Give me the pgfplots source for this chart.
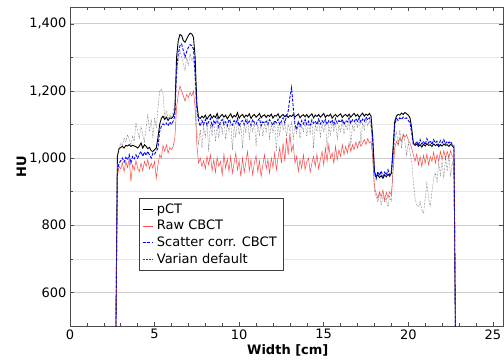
\documentclass[border=0pt]{standalone}
\usepackage{fontspec}
\setmainfont{DejaVu Sans}
\usepackage{pgfplots}
\pgfplotsset{compat=1.18}
\usepackage{pgfplotstable}
\definecolor{rawred}{RGB}{255,70,70}
\definecolor{gridmaj}{RGB}{205,205,205}
\definecolor{gridmin}{RGB}{232,232,232}
\pgfplotstableread{
x pct raw scat var
2.7 400 400 400 400
2.8 1005 945 960 1010
2.9 1028 975 985 1030
3.0 1032 968 992 1045
3.1 1035 985 1000 1038
3.2 1030 960 988 1060
3.3 1038 990 1002 1048
3.4 1036 972 995 1070
3.5 1040 998 1010 1055
3.6 1035 930 985 1040
3.7 1038 980 1005 1065
3.8 1036 965 998 1050
3.9 1034 992 1010 1105
4.0 1030 970 1000 1080
4.1 1036 960 1012 1060
4.2 1045 985 1020 1095
4.3 1030 962 1005 1070
4.4 1040 990 1018 1050
4.5 1035 975 1008 1090
4.6 1028 995 1020 1130
4.7 1032 968 1010 1080
4.8 1022 985 1000 1115
4.9 1020 970 1015 1060
5.0 1025 990 1012 1120
5.1 1030 940 1020 1090
5.2 1060 980 1030 1150
5.3 1100 1010 1080 1200
5.4 1118 1000 1095 1205
5.5 1125 1038 1102 1190
5.6 1115 1020 1098 1120
5.7 1122 1040 1104 1140
5.8 1112 1015 1096 1115
5.9 1120 1032 1108 1130
6.0 1118 1025 1100 1120
6.1 1124 1035 1110 1140
6.2 1140 1060 1125 1160
6.3 1300 1150 1260 1240
6.4 1350 1190 1310 1290
6.5 1368 1215 1335 1320
6.6 1365 1200 1340 1300
6.7 1350 1185 1320 1280
6.8 1345 1170 1300 1260
6.9 1355 1190 1318 1300
7.0 1365 1180 1330 1275
7.1 1372 1195 1338 1310
7.2 1370 1185 1335 1290
7.3 1360 1200 1325 1300
7.4 1300 1150 1250 1220
7.5 1160 1040 1150 1080
7.6 1122 985 1110 1040
7.7 1118 1000 1095 1085
7.8 1125 975 1112 1030
7.9 1120 992 1100 1095
8.0 1128 968 1115 1060
8.1 1116 1005 1098 1110
8.2 1124 980 1108 1020
8.3 1130 1010 1118 1100
8.4 1119 962 1095 1070
8.5 1126 995 1110 1115
8.6 1121 958 1102 1050
8.7 1133 1002 1120 1095
8.8 1118 975 1092 1060
8.9 1125 990 1110 1105
9.0 1130 950 1115 1075
9.1 1122 1012 1100 1120
9.2 1128 970 1108 1055
9.3 1117 998 1096 1100
9.4 1125 960 1115 1080
9.5 1132 1005 1105 1110
9.6 1120 955 1098 1025
9.7 1127 985 1112 1095
9.8 1123 1015 1104 1065
9.9 1135 965 1118 1115
10.0 1119 992 1095 1070
10.1 1126 945 1108 1100
10.2 1130 1000 1112 1030
10.3 1121 958 1100 1105
10.4 1128 988 1115 1075
10.5 1124 1020 1102 1118
10.6 1132 962 1110 1060
10.7 1118 995 1098 1098
10.8 1126 950 1115 1080
10.9 1130 985 1105 1110
11.0 1122 1008 1100 1035
11.1 1127 960 1112 1100
11.2 1133 992 1118 1070
11.3 1120 945 1096 1112
11.4 1126 980 1108 1065
11.5 1129 1010 1104 1105
11.6 1121 968 1110 1080
11.7 1128 995 1100 1115
11.8 1124 955 1114 1060
11.9 1131 1000 1106 1100
12.0 1119 972 1098 1075
12.1 1127 1015 1112 1110
12.2 1125 965 1105 1020
12.3 1132 1002 1116 1095
12.4 1120 1030 1100 1070
12.5 1126 985 1110 1112
12.6 1130 1045 1120 1085
12.7 1123 990 1105 1105
12.8 1128 1060 1125 1065
12.9 1121 1010 1140 1100
13.0 1127 1075 1180 1080
13.1 1124 1020 1210 1110
13.2 1130 1040 1150 1060
13.3 1122 985 1100 1095
13.4 1127 1005 1085 1075
13.5 1131 960 1110 1112
13.6 1120 995 1095 1058
13.7 1126 970 1112 1100
13.8 1129 1010 1102 1080
13.9 1123 965 1115 1110
14.0 1130 990 1100 1065
14.1 1121 1000 1110 1105
14.2 1127 958 1098 1075
14.3 1132 985 1114 1115
14.4 1120 1005 1104 1030
14.5 1128 975 1110 1098
14.6 1124 1012 1100 1080
14.7 1130 968 1116 1112
14.8 1122 995 1102 1065
14.9 1127 1020 1112 1100
15.0 1133 980 1105 1078
15.1 1121 1030 1115 1110
15.2 1128 990 1100 1025
15.3 1125 1040 1112 1095
15.4 1131 1000 1106 1070
15.5 1119 1015 1114 1112
15.6 1126 985 1100 1082
15.7 1130 1035 1118 1105
15.8 1123 995 1104 1060
15.9 1128 1025 1112 1098
16.0 1132 1005 1106 1078
16.1 1121 1040 1116 1110
16.2 1127 1010 1100 1070
16.3 1130 1035 1112 1100
16.4 1124 1015 1108 1085
16.5 1131 1045 1120 1125
16.6 1122 1020 1104 1035
16.7 1128 1040 1114 1098
16.8 1133 1025 1108 1080
16.9 1125 1048 1118 1112
17.0 1130 1030 1110 1090
17.1 1122 1050 1120 1125
17.2 1128 1035 1106 1045
17.3 1134 1045 1116 1105
17.4 1125 1055 1110 1085
17.5 1131 1040 1122 1118
17.6 1127 1058 1114 1095
17.7 1133 1045 1120 1110
17.8 1125 1050 1110 1090
17.9 1060 1000 1050 1000
18.0 960 915 955 900
18.1 945 895 938 885
18.2 950 880 960 870
18.3 942 900 948 895
18.4 948 885 962 860
18.5 940 905 945 890
18.6 950 875 958 870
18.7 944 898 950 880
18.8 952 882 965 855
18.9 946 900 950 885
19.0 955 890 960 870
19.1 1030 960 1010 980
19.2 1110 1030 1100 1060
19.3 1125 1050 1118 1080
19.4 1130 1040 1112 1040
19.5 1128 1060 1120 1085
19.6 1134 1050 1115 1030
19.7 1130 1072 1122 1070
19.8 1136 1062 1118 1050
19.9 1132 1070 1120 1010
20.0 1128 1055 1112 1045
20.1 1120 1045 1105 1020
20.2 1090 1030 1075 990
20.3 1045 1010 1040 930
20.4 1038 990 1040 880
20.5 1042 1012 1050 860
20.6 1035 980 1038 855
20.7 1040 1005 1055 870
20.8 1033 975 1042 845
20.9 1041 1008 1050 836
21.0 1036 985 1040 880
21.1 1043 1012 1058 925
21.2 1038 980 1045 880
21.3 1040 1005 1052 855
21.4 1035 990 1040 900
21.5 1042 1018 1055 940
21.6 1037 985 1045 955
21.7 1041 1010 1050 930
21.8 1034 990 1038 985
21.9 1040 1020 1052 950
22.0 1036 995 1045 990
22.1 1042 1022 1055 940
22.2 1038 1000 1042 1000
22.3 1040 1020 1050 960
22.4 1035 1002 1045 1010
22.5 1041 1022 1050 945
22.6 1037 1005 1040 990
22.7 1030 1000 1038 960
22.8 400 400 400 400
}\profile

\begin{document}
\begin{tikzpicture}[font=\fontsize{13bp}{15bp}\selectfont]
\begin{axis}[
  at={(0,0)}, anchor=south west,
  scale only axis, width=433bp, height=319bp,
  xmin=0, xmax=25.6, ymin=500, ymax=1450,
  xtick={0,5,...,25}, minor x tick num=4,
  ytick={600,800,...,1400}, minor y tick num=1,
  ymajorgrids, yminorgrids,
  major grid style={gridmaj, line width=0.6pt},
  minor grid style={gridmin, line width=0.6pt},
  tick align=inside, major tick length=4bp, minor tick length=2.5bp,
  tick style={black!70, line width=0.5pt},
  axis line style={black!70, line width=0.6pt},
  /pgf/number format/assume math mode=true,
  /pgf/number format/1000 sep={,},
  xlabel={\textbf{Width [cm]}}, ylabel={\textbf{HU}},
  xlabel style={at={(axis description cs:0.503,-0.0774)}, anchor=center},
  ylabel style={at={(axis description cs:-0.112,0.5)}, anchor=center},
  legend style={at={(axis description cs:0.160,0.40)}, anchor=north west,
    draw=black!75, fill=white, font=\fontsize{13bp}{15bp}\selectfont,
    inner xsep=3bp, inner ysep=3bp, row sep=1.5bp, cells={anchor=west},
    nodes={inner xsep=3.5bp}},
  legend image code/.code={\draw[#1] (0bp,0bp) -- (10bp,0bp);},
  legend cell align=left,
]
\addplot[black, line width=0.9pt] table[x=x, y=pct] {\profile};
\addlegendentry{pCT}
\addplot[rawred, line width=0.5pt] table[x=x, y=raw] {\profile};
\addlegendentry{Raw CBCT}
\addplot[blue, line width=0.9pt, dash pattern=on 3pt off 1.5pt] table[x=x, y=scat] {\profile};
\addlegendentry{Scatter corr. CBCT}
\addplot[black!75, line width=0.45pt, densely dotted] table[x=x, y=var] {\profile};
\addlegendentry{Varian default}
\end{axis}
\pgfresetboundingbox
\path (-70bp,-34bp) rectangle (434bp,326bp);
\end{tikzpicture}
\end{document}
